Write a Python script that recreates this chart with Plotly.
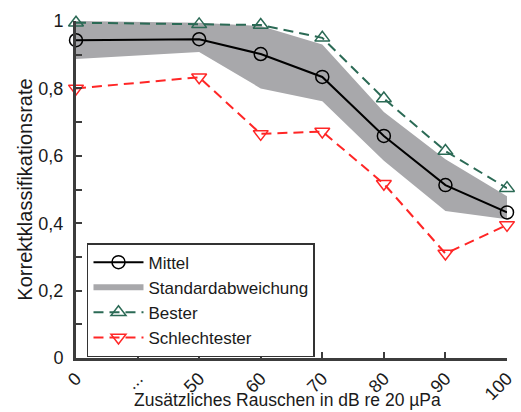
import plotly.graph_objects as go

categories = ["0", "...", "50", "60", "70", "80", "90", "100"]
mittel = [0.943, None, 0.946, 0.902, 0.834, 0.659, 0.513, 0.432]
std_upper = [1.0, None, 0.995, 0.985, 0.93, 0.73, 0.59, 0.48]
std_lower = [0.887, None, 0.908, 0.80, 0.762, 0.585, 0.436, 0.412]
bester = [0.995, None, 0.99, 0.988, 0.95, 0.77, 0.614, 0.504]
schlechtester = [0.80, None, 0.833, 0.665, 0.672, 0.517, 0.31, 0.395]
x_title = "Zusätzliches Rauschen in dB re 20 µPa"
y_title = "Korrektklassifikationsrate"

FONT = "Liberation Sans, Arial, sans-serif"
AXIS = "#3c3c3c"
GREEN = "#2b6a55"
RED = "#ff2626"
GRAY = "#a8a8ab"

valid = [i for i, v in enumerate(mittel) if v is not None]
band_x = [categories[i] for i in valid] + [categories[i] for i in reversed(valid)]
band_y = [std_upper[i] for i in valid] + [std_lower[i] for i in reversed(valid)]

fig = go.Figure()
fig.add_trace(go.Scatter(
    x=band_x, y=band_y, fill="toself", fillcolor=GRAY, mode="none",
    name="Standardabweichung", legendrank=2, hoverinfo="skip"))
fig.add_trace(go.Scatter(
    x=categories, y=bester, mode="lines+markers", connectgaps=True,
    name="Bester", legendrank=3, cliponaxis=False,
    line=dict(color=GREEN, width=2, dash="10px,6px"),
    marker=dict(symbol="triangle-up-open", size=13, color=GREEN, line=dict(width=1.5))))
fig.add_trace(go.Scatter(
    x=categories, y=schlechtester, mode="lines+markers", connectgaps=True,
    name="Schlechtester", legendrank=4, cliponaxis=False,
    line=dict(color=RED, width=2, dash="10px,6px"),
    marker=dict(symbol="triangle-down-open", size=13, color=RED, line=dict(width=1.5))))
fig.add_trace(go.Scatter(
    x=categories, y=mittel, mode="lines+markers", connectgaps=True,
    name="Mittel", legendrank=1, cliponaxis=False,
    line=dict(color="black", width=2),
    marker=dict(symbol="circle-open", size=13, color="black", line=dict(width=1.5))))

fig.update_layout(
    width=521, height=412,
    margin=dict(l=76, r=14, t=21, b=54),
    paper_bgcolor="white", plot_bgcolor="white",
    separators=",.",
    font=dict(family=FONT, size=18, color="#1a1a1a"),
    showlegend=True,
    legend=dict(
        x=0.0255, y=0.341, xanchor="left", yanchor="top",
        bgcolor="white", bordercolor="#333333", borderwidth=1.5,
        font=dict(family=FONT, size=17, color="#1a1a1a"),
        tracegroupgap=0, itemwidth=50),
    annotations=[dict(
        text=x_title, xref="paper", yref="paper", x=0.49, y=-0.125,
        xanchor="center", yanchor="middle", showarrow=False, borderpad=0,
        font=dict(family=FONT, size=17.5, color="#1a1a1a"))],
)
fig.update_xaxes(
    type="category", categoryorder="array", categoryarray=categories,
    range=[0, 7], autorange=False, automargin=False,
    showgrid=False, zeroline=False,
    showline=True, linecolor=AXIS, linewidth=3,
    ticks="inside", ticklen=6, tickwidth=2, tickcolor=AXIS,
    tickangle=-45, tickfont=dict(size=18),
)
fig.update_yaxes(
    range=[0, 1], autorange=False, dtick=0.2, tick0=0, automargin=False,
    showgrid=False, zeroline=False,
    showline=True, linecolor=AXIS, linewidth=3,
    ticks="inside", ticklen=6, tickwidth=2, tickcolor=AXIS,
    minor=dict(dtick=0.1, ticks="inside", ticklen=6, tickwidth=2, tickcolor=AXIS, showgrid=False),
    tickfont=dict(size=18), ticklabelstandoff=6,
    title=dict(text=y_title, font=dict(size=20), standoff=1),
)

fig.write_html("out.html")
